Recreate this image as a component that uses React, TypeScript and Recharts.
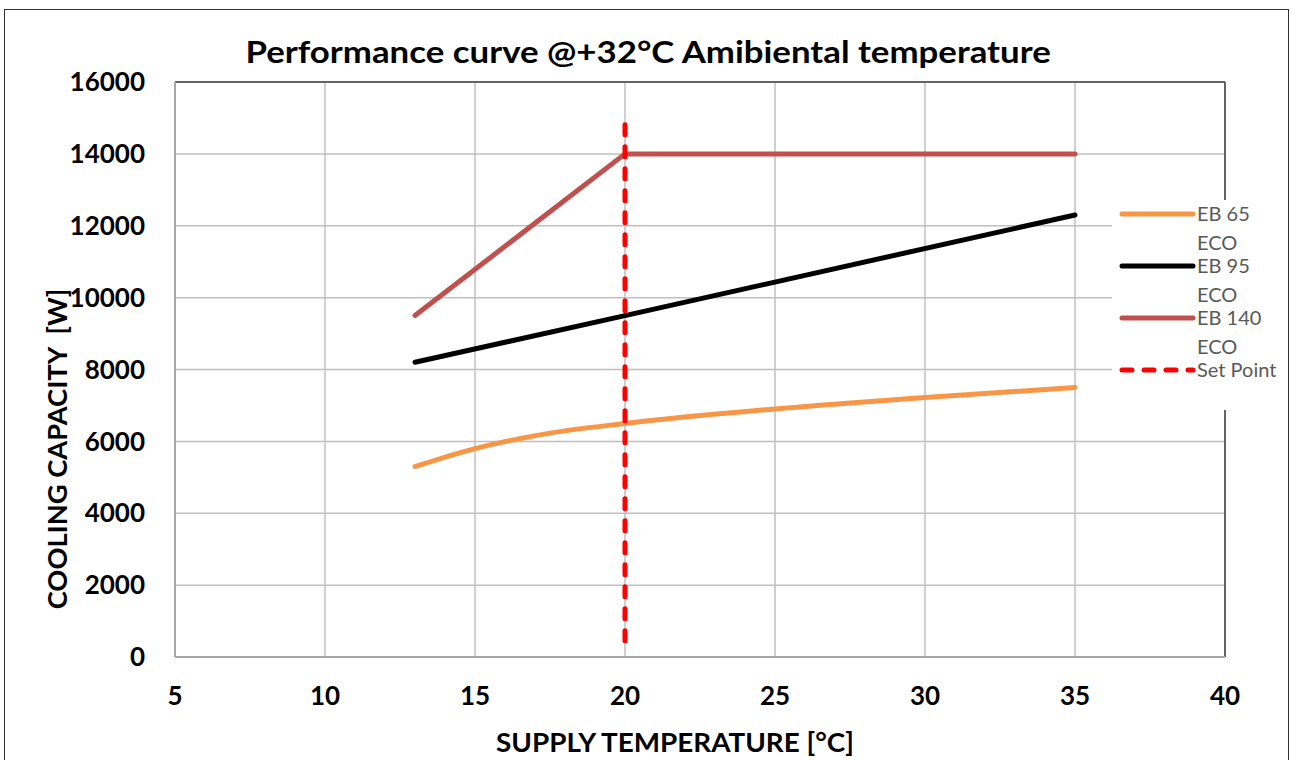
import { LineChart, Line, XAxis, YAxis, CartesianGrid, ReferenceLine } from "recharts"

const eb65Temps = [13, 15, 17.5, 20, 25, 30, 35]
const eb65Values = [5300, 5800, 6230, 6500, 6900, 7220, 7500]
const eb95Temps = [13, 20, 35]
const eb95Values = [8200, 9500, 12300]
const eb140Temps = [13, 20, 35]
const eb140Values = [9500, 14000, 14000]
const setPointTemps = [20, 20]
const setPointValues = [450, 15050]

const xTicks = [5, 10, 15, 20, 25, 30, 35, 40]
const yTicks = [0, 2000, 4000, 6000, 8000, 10000, 12000, 14000, 16000]

const toPoints = (xs: number[], ys: number[]) => xs.map((x, i) => ({ t: x, w: ys[i] }))

const series = [
  { name: "EB 65", sub: "ECO", color: "#F79646", data: toPoints(eb65Temps, eb65Values), type: "monotone", dash: undefined },
  { name: "EB 95", sub: "ECO", color: "#000000", data: toPoints(eb95Temps, eb95Values), type: "linear", dash: undefined },
  { name: "EB 140", sub: "ECO", color: "#C0504D", data: toPoints(eb140Temps, eb140Values), type: "linear", dash: undefined },
  { name: "Set Point", sub: "", color: "#FF0000", data: toPoints(setPointTemps, setPointValues), type: "linear", dash: "10 12" },
]

const font = "Lato, 'Open Sans', sans-serif"
const tickStyle = { fontSize: 26, fontWeight: 700, fill: "#000", fontFamily: font }

export default function App() {
  return (
    <div style={{ position: "absolute", left: 0, top: 0, width: 1292, height: 760, overflow: "hidden", background: "#fff", fontFamily: font }}>
      <div style={{ position: "absolute", left: 4, top: 9, width: 1283, height: 800, border: "1.5px solid #333" }} />
      <div style={{ position: "absolute", left: 0, width: 1292, top: 31, textAlign: "center", fontSize: 30, fontWeight: 700, lineHeight: "40px", paddingLeft: 2, transform: "scaleX(1.16)" }}>
        Performance curve @+32°C Amibiental temperature
      </div>
      <div style={{ position: "absolute", left: 0, width: 1350, top: 725, textAlign: "center", fontSize: 26, fontWeight: 700, lineHeight: "34px", transform: "scaleX(1.07)" }}>
        SUPPLY TEMPERATURE [°C]
      </div>
      <div style={{ position: "absolute", left: 57, top: 449, transform: "translate(-50%, -50%) rotate(-90deg) scaleX(1.05)", whiteSpace: "nowrap", fontSize: 26, fontWeight: 700, lineHeight: "34px" }}>
        COOLING CAPACITY&nbsp;&nbsp;[W]
      </div>
      <div style={{ position: "absolute", left: 0, top: 0 }}>
        <LineChart width={1292} height={760} margin={{ top: 82, right: 67, bottom: 43, left: 75 }}>
          <CartesianGrid stroke="#BFBFBF" strokeWidth={1.5} horizontalValues={yTicks} verticalValues={xTicks} />
          <XAxis
            type="number"
            dataKey="t"
            domain={[5, 40]}
            ticks={xTicks}
            height={60}
            tickSize={0}
            tickMargin={30}
            axisLine={{ stroke: "#A6A6A6", strokeWidth: 2 }}
            tick={tickStyle}
            allowDuplicatedCategory={false}
          />
          <YAxis
            type="number"
            dataKey="w"
            domain={[0, 16000]}
            ticks={yTicks}
            width={100}
            tickSize={0}
            tickMargin={30}
            axisLine={{ stroke: "#A6A6A6", strokeWidth: 2 }}
            tick={tickStyle}
          />
          <ReferenceLine y={16000} stroke="#404040" strokeWidth={1.5} />
          <ReferenceLine x={40} stroke="#404040" strokeWidth={1.5} />
          {series.map((s) => (
            <Line
              key={s.name}
              data={s.data}
              dataKey="w"
              type={s.type as "monotone" | "linear"}
              stroke={s.color}
              strokeWidth={5}
              strokeDasharray={s.dash}
              strokeLinecap="round"
              strokeLinejoin="round"
              dot={false}
              activeDot={false}
              isAnimationActive={false}
            />
          ))}
        </LineChart>
      </div>
      <div style={{ position: "absolute", left: 1112, top: 200, width: 175, height: 210, background: "#fff" }}>
        {series.map((s, i) => (
          <div key={s.name} style={{ position: "absolute", left: 0, top: 14 + i * 52 }}>
            <svg width={80} height={10} style={{ position: "absolute", left: 5, top: -5 }}>
              <line x1={5} y1={5} x2={76} y2={5} stroke={s.color} strokeWidth={5} strokeLinecap="round" strokeDasharray={s.dash} />
            </svg>
            <div style={{ position: "absolute", left: 85, top: -14, fontSize: 20, lineHeight: "29px", color: "#595959", whiteSpace: "nowrap", marginTop: -1 }}>
              {s.name}
              {s.sub && <br />}
              {s.sub}
            </div>
          </div>
        ))}
      </div>
    </div>
  )
}
